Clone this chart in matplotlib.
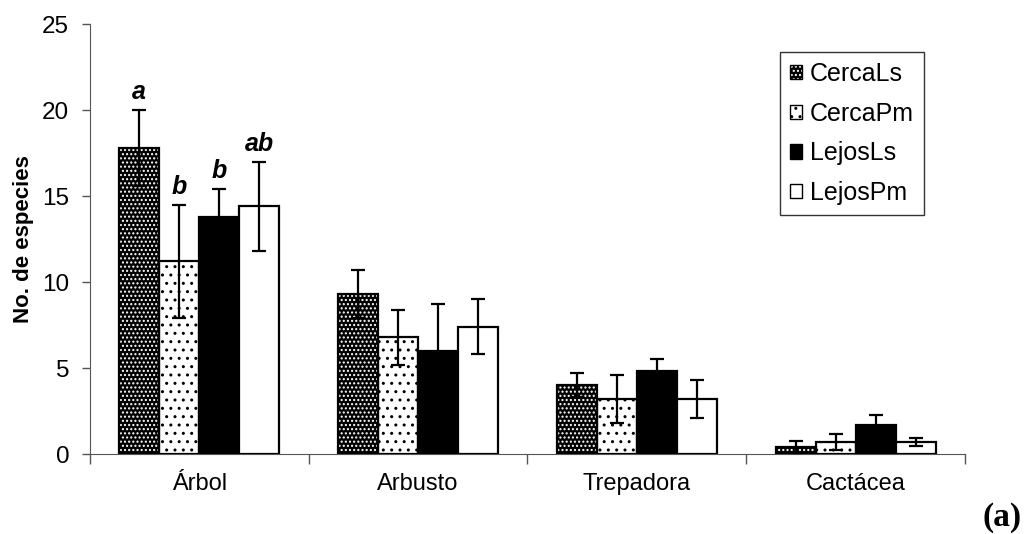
import numpy as np
import matplotlib.pyplot as plt
from matplotlib.legend_handler import HandlerTuple

plt.rcParams['font.family'] = ['Liberation Sans', 'DejaVu Sans']
plt.rcParams['hatch.linewidth'] = 1.0

categories = ['Árbol', 'Arbusto', 'Trepadora', 'Cactácea']
series = ['CercaLs', 'CercaPm', 'LejosLs', 'LejosPm']

cerca_ls = [17.8, 9.3, 4.0, 0.4]
cerca_pm = [11.2, 6.8, 3.2, 0.7]
lejos_ls = [13.8, 6.0, 4.8, 1.7]
lejos_pm = [14.4, 7.4, 3.2, 0.7]

cerca_ls_err = [2.2, 1.4, 0.7, 0.35]
cerca_pm_err = [3.3, 1.6, 1.4, 0.45]
lejos_ls_err = [1.6, 2.7, 0.7, 0.55]
lejos_pm_err = [2.6, 1.6, 1.1, 0.25]

# significance letters (only first group)
letters = ['a', 'b', 'b', 'ab']

values = [cerca_ls, cerca_pm, lejos_ls, lejos_pm]
errors = [cerca_ls_err, cerca_pm_err, lejos_ls_err, lejos_pm_err]

# (facecolor, hatch, hatch colour)
styles = [('black', '....', 'white'),
          ('white', '..', 'black'),
          ('black', None, None),
          ('white', None, None)]

fig = plt.figure(figsize=(10.26, 5.34), dpi=100)
ax = fig.add_axes([0.0877, 0.1498, 0.8528, 0.8052])

x = np.arange(len(categories))
width = 0.183

handles = []
for i, (vals, errs) in enumerate(zip(values, errors)):
    pos = x + (i - 1.5) * width
    face, hatch, hcol = styles[i]
    if hatch:
        ax.bar(pos, vals, width, color=face, hatch=hatch, edgecolor=hcol,
               linewidth=0, zorder=2)
    ax.bar(pos, vals, width, facecolor='none' if hatch else face,
           edgecolor='black', linewidth=1.6, zorder=3)
    ax.errorbar(pos, vals, yerr=errs, fmt='none', ecolor='black',
                elinewidth=1.6, capsize=5, capthick=1.6, zorder=4)
    # legend proxy: fill + outline drawn on top of each other
    outline = plt.Rectangle((0, 0), 1, 1, facecolor='none', edgecolor='black', linewidth=1.0)
    if hatch:
        fill = plt.Rectangle((0, 0), 1, 1, facecolor=face, hatch=hatch,
                             edgecolor=hcol, linewidth=0)
    else:
        fill = plt.Rectangle((0, 0), 1, 1, facecolor=face, linewidth=0)
    handles.append((fill, outline))
    ax.text(pos[0], vals[0] + errs[0] + 0.35, letters[i], ha='center',
            va='bottom', fontsize=18, fontweight='bold', style='italic')

ax.set_xlim(-0.5, 3.5)
ax.set_ylim(0, 25)
ax.set_yticks([0, 5, 10, 15, 20, 25])
ax.set_xticks(np.arange(-0.5, 4, 1))
ax.set_xticklabels([])
ax.set_xticks(x, minor=True)
ax.set_xticklabels(categories, minor=True, fontsize=17)
ax.tick_params(axis='x', which='minor', length=0, pad=14)
ax.tick_params(axis='x', which='major', length=7, width=1, direction='out', color='#555555')
ax.tick_params(axis='y', length=6, width=1, direction='out', labelsize=17.5,
               color='#555555', pad=9)
for s in ['top', 'right']:
    ax.spines[s].set_visible(False)
for s in ['left', 'bottom']:
    ax.spines[s].set_color('#555555')
ax.set_ylabel('No. de especies', fontsize=16, fontweight='bold', labelpad=6)

leg = ax.legend(handles, series, handler_map={tuple: HandlerTuple(ndivide=1, pad=0)},
                loc='upper right', bbox_to_anchor=(0.953, 0.935),
                fontsize=18, frameon=True, fancybox=False, edgecolor='black',
                handlelength=0.5, handleheight=0.5, handletextpad=0.3,
                labelspacing=0.63, borderpad=0.4, borderaxespad=0)
leg.get_frame().set_linewidth(1.0)

fig.text(0.977, 0.03, '(a)', fontsize=24, fontweight='bold',
         family=['Liberation Serif', 'DejaVu Serif'], ha='center', va='center')

fig.savefig('out.png', dpi=100)
